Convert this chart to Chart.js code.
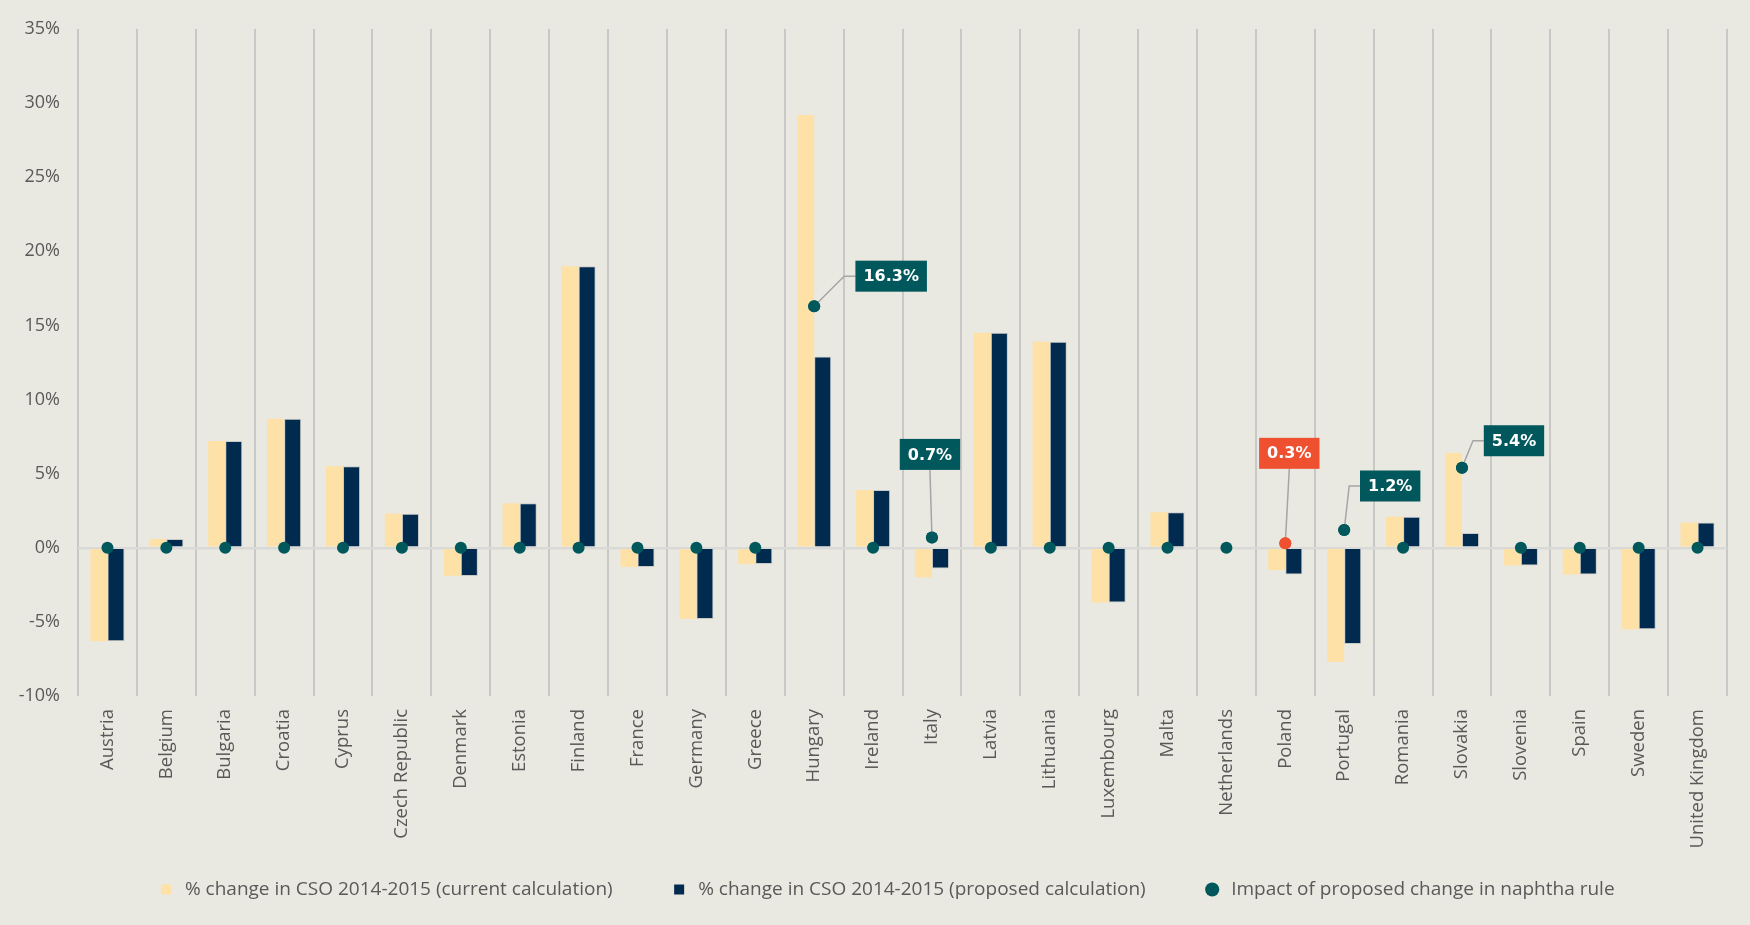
<!DOCTYPE html>
<html>
<head>
<meta charset="utf-8">
<script src="https://cdn.jsdelivr.net/npm/chart.js@4.4.1/dist/chart.umd.min.js"></script>
<style>
    html, body { margin: 0; padding: 0; background: #eae9e1; }
    #wrap { width: 1750px; height: 925px; }
</style>
</head>
<body>
<div id="wrap"><canvas id="chartCso" width="1750" height="925"></canvas></div>
<script>
// Dados
const countries = ["Austria", "Belgium", "Bulgaria", "Croatia", "Cyprus", "Czech Republic", "Denmark", "Estonia", "Finland", "France", "Germany", "Greece", "Hungary", "Ireland", "Italy", "Latvia", "Lithuania", "Luxembourg", "Malta", "Netherlands", "Poland", "Portugal", "Romania", "Slovakia", "Slovenia", "Spain", "Sweden", "United Kingdom"];
const currentCalc = [-6.3, 0.6, 7.2, 8.7, 5.5, 2.3, -1.9, 3.0, 19.0, -1.3, -4.8, -1.1, 29.2, 3.9, -2.0, 14.5, 13.9, -3.7, 2.4, 0, -1.5, -7.7, 2.1, 6.4, -1.2, -1.8, -5.5, 1.7];
const proposedCalc = [-6.3, 0.6, 7.2, 8.7, 5.5, 2.3, -1.9, 3.0, 19.0, -1.3, -4.8, -1.1, 12.9, 3.9, -1.4, 14.5, 13.9, -3.7, 2.4, 0, -1.8, -6.5, 2.1, 1.0, -1.2, -1.8, -5.5, 1.7];
const naphthaImpact = [0, 0, 0, 0, 0, 0, 0, 0, 0, 0, 0, 0, 16.3, 0, 0.7, 0, 0, 0, 0, 0, 0.3, 1.2, 0, 5.4, 0, 0, 0, 0];
const yTicks = { min: -10, max: 35, step: 5 };
const seriesNames = [
    "% change in CSO 2014-2015 (current calculation)",
    "% change in CSO 2014-2015 (proposed calculation)",
    "Impact of proposed change in naphtha rule"
];
const highlightCountry = "Poland";

const TEAL = '#00585c';
const RED = '#ef5030';
const GREY_TXT = '#595959';
const FONT = "'Open Sans', 'DejaVu Sans', sans-serif";

// Rótulos destacados (posição relativa ao ponto)
const callouts = [
    { country: "Hungary",  dx: 77, dy: -30, leader: 'elbow', kneeDx: 30 },
    { country: "Italy",    dx: -2, dy: -83, leader: 'down' },
    { country: "Poland",   dx: 4,  dy: -90, leader: 'down' },
    { country: "Portugal", dx: 46, dy: -44, leader: 'elbow', kneeDx: 5 },
    { country: "Slovakia", dx: 52, dy: -27, leader: 'elbow', kneeDx: 11 }
];

const calloutPlugin = {
    id: 'callouts',
    afterDatasetsDraw(chart) {
        const ctx = chart.ctx;
        const meta = chart.getDatasetMeta(2);
        ctx.save();
        ctx.font = "bold 16px 'DejaVu Sans', sans-serif";
        callouts.forEach(c => {
            const i = countries.indexOf(c.country);
            const pt = meta.data[i];
            const txt = naphthaImpact[i].toFixed(1) + '%';
            const w = ctx.measureText(txt).width + 16;
            const h = 31;
            const cx = pt.x + c.dx, cy = pt.y + c.dy;
            const left = cx - w / 2, top = cy - h / 2;
            const col = c.country === highlightCountry ? RED : TEAL;

            // linha de chamada
            ctx.strokeStyle = '#a5a5a5';
            ctx.lineWidth = 1.5;
            ctx.beginPath();
            if (c.leader === 'elbow') {
                ctx.moveTo(pt.x, pt.y);
                ctx.lineTo(pt.x + c.kneeDx, cy);
                ctx.lineTo(left, cy);
            } else {
                ctx.moveTo(pt.x, pt.y);
                ctx.lineTo(cx, top + h);
            }
            ctx.stroke();

            // redesenha o ponto por cima da linha
            ctx.fillStyle = col;
            ctx.beginPath();
            ctx.arc(pt.x, pt.y, 6, 0, Math.PI * 2);
            ctx.fill();

            ctx.fillRect(left, top, w, h);
            ctx.fillStyle = '#ffffff';
            ctx.textAlign = 'center';
            ctx.textBaseline = 'middle';
            ctx.fillText(txt, cx, cy + 1);
        });
        ctx.restore();
    }
};

// sem recorte dos rótulos dos eixos
const noClip = s => { s._computeLabelArea = () => undefined; };

new Chart(document.getElementById('chartCso').getContext('2d'), {
    data: {
        labels: countries,
        datasets: [
            {
                type: 'bar',
                label: seriesNames[0],
                data: currentCalc,
                backgroundColor: '#fde1a6',
                borderWidth: 0,
                categoryPercentage: 0.58,
                barPercentage: 1,
                order: 1
            },
            {
                type: 'bar',
                label: seriesNames[1],
                data: proposedCalc,
                backgroundColor: '#002b4f',
                borderColor: '#c9c9c6',
                borderWidth: 1,
                categoryPercentage: 0.58,
                barPercentage: 1,
                order: 1
            },
            {
                type: 'line',
                label: seriesNames[2],
                data: naphthaImpact,
                showLine: false,
                pointRadius: 6,
                pointHoverRadius: 6,
                pointBorderWidth: 0,
                pointBackgroundColor: c => countries[c.index] === highlightCountry ? RED : TEAL,
                backgroundColor: TEAL,
                borderColor: TEAL,
                order: 0
            }
        ]
    },
    options: {
        responsive: false,
        animation: false,
        layout: { padding: { top: 29, right: 23, bottom: 16, left: 44 } },
        plugins: {
            tooltip: { enabled: false },
            legend: {
                position: 'bottom',
                labels: {
                    usePointStyle: true,
                    boxHeight: 10,
                    padding: 57,
                    color: GREY_TXT,
                    font: { family: FONT, size: 19 },
                    sort: (a, b) => a.datasetIndex - b.datasetIndex,
                    generateLabels: chart => chart.data.datasets.map((ds, i) => ({
                        text: ds.label,
                        fillStyle: i === 0 ? '#fde1a6' : (i === 1 ? '#002b4f' : TEAL),
                        strokeStyle: 'transparent',
                        lineWidth: 0,
                        pointStyle: i === 2 ? 'circle' : 'rect',
                        fontColor: GREY_TXT,
                        datasetIndex: i
                    }))
                }
            }
        },
        scales: {
            x: {
                offset: true,
                grid: {
                    offset: true,
                    color: '#c8c8c6',
                    lineWidth: 2,
                    drawTicks: false
                },
                border: { display: false },
                ticks: {
                    color: GREY_TXT,
                    font: { family: FONT, size: 18.5 },
                    minRotation: 90,
                    maxRotation: 90,
                    padding: 13,
                    autoSkip: false
                },
                afterFit: s => { s.height = 127; noClip(s); }
            },
            y: {
                min: yTicks.min,
                max: yTicks.max,
                border: { display: false },
                grid: {
                    drawTicks: false,
                    color: c => c.tick.value === 0 ? '#d9d9d7' : 'transparent',
                    lineWidth: 2.5
                },
                ticks: {
                    stepSize: yTicks.step,
                    padding: 18,
                    color: GREY_TXT,
                    font: { family: FONT, size: 18 },
                    callback: v => v + '%'
                },
                afterFit: s => { s.width = 34; noClip(s); }
            }
        }
    },
    plugins: [calloutPlugin]
});
</script>
</body>
</html>
